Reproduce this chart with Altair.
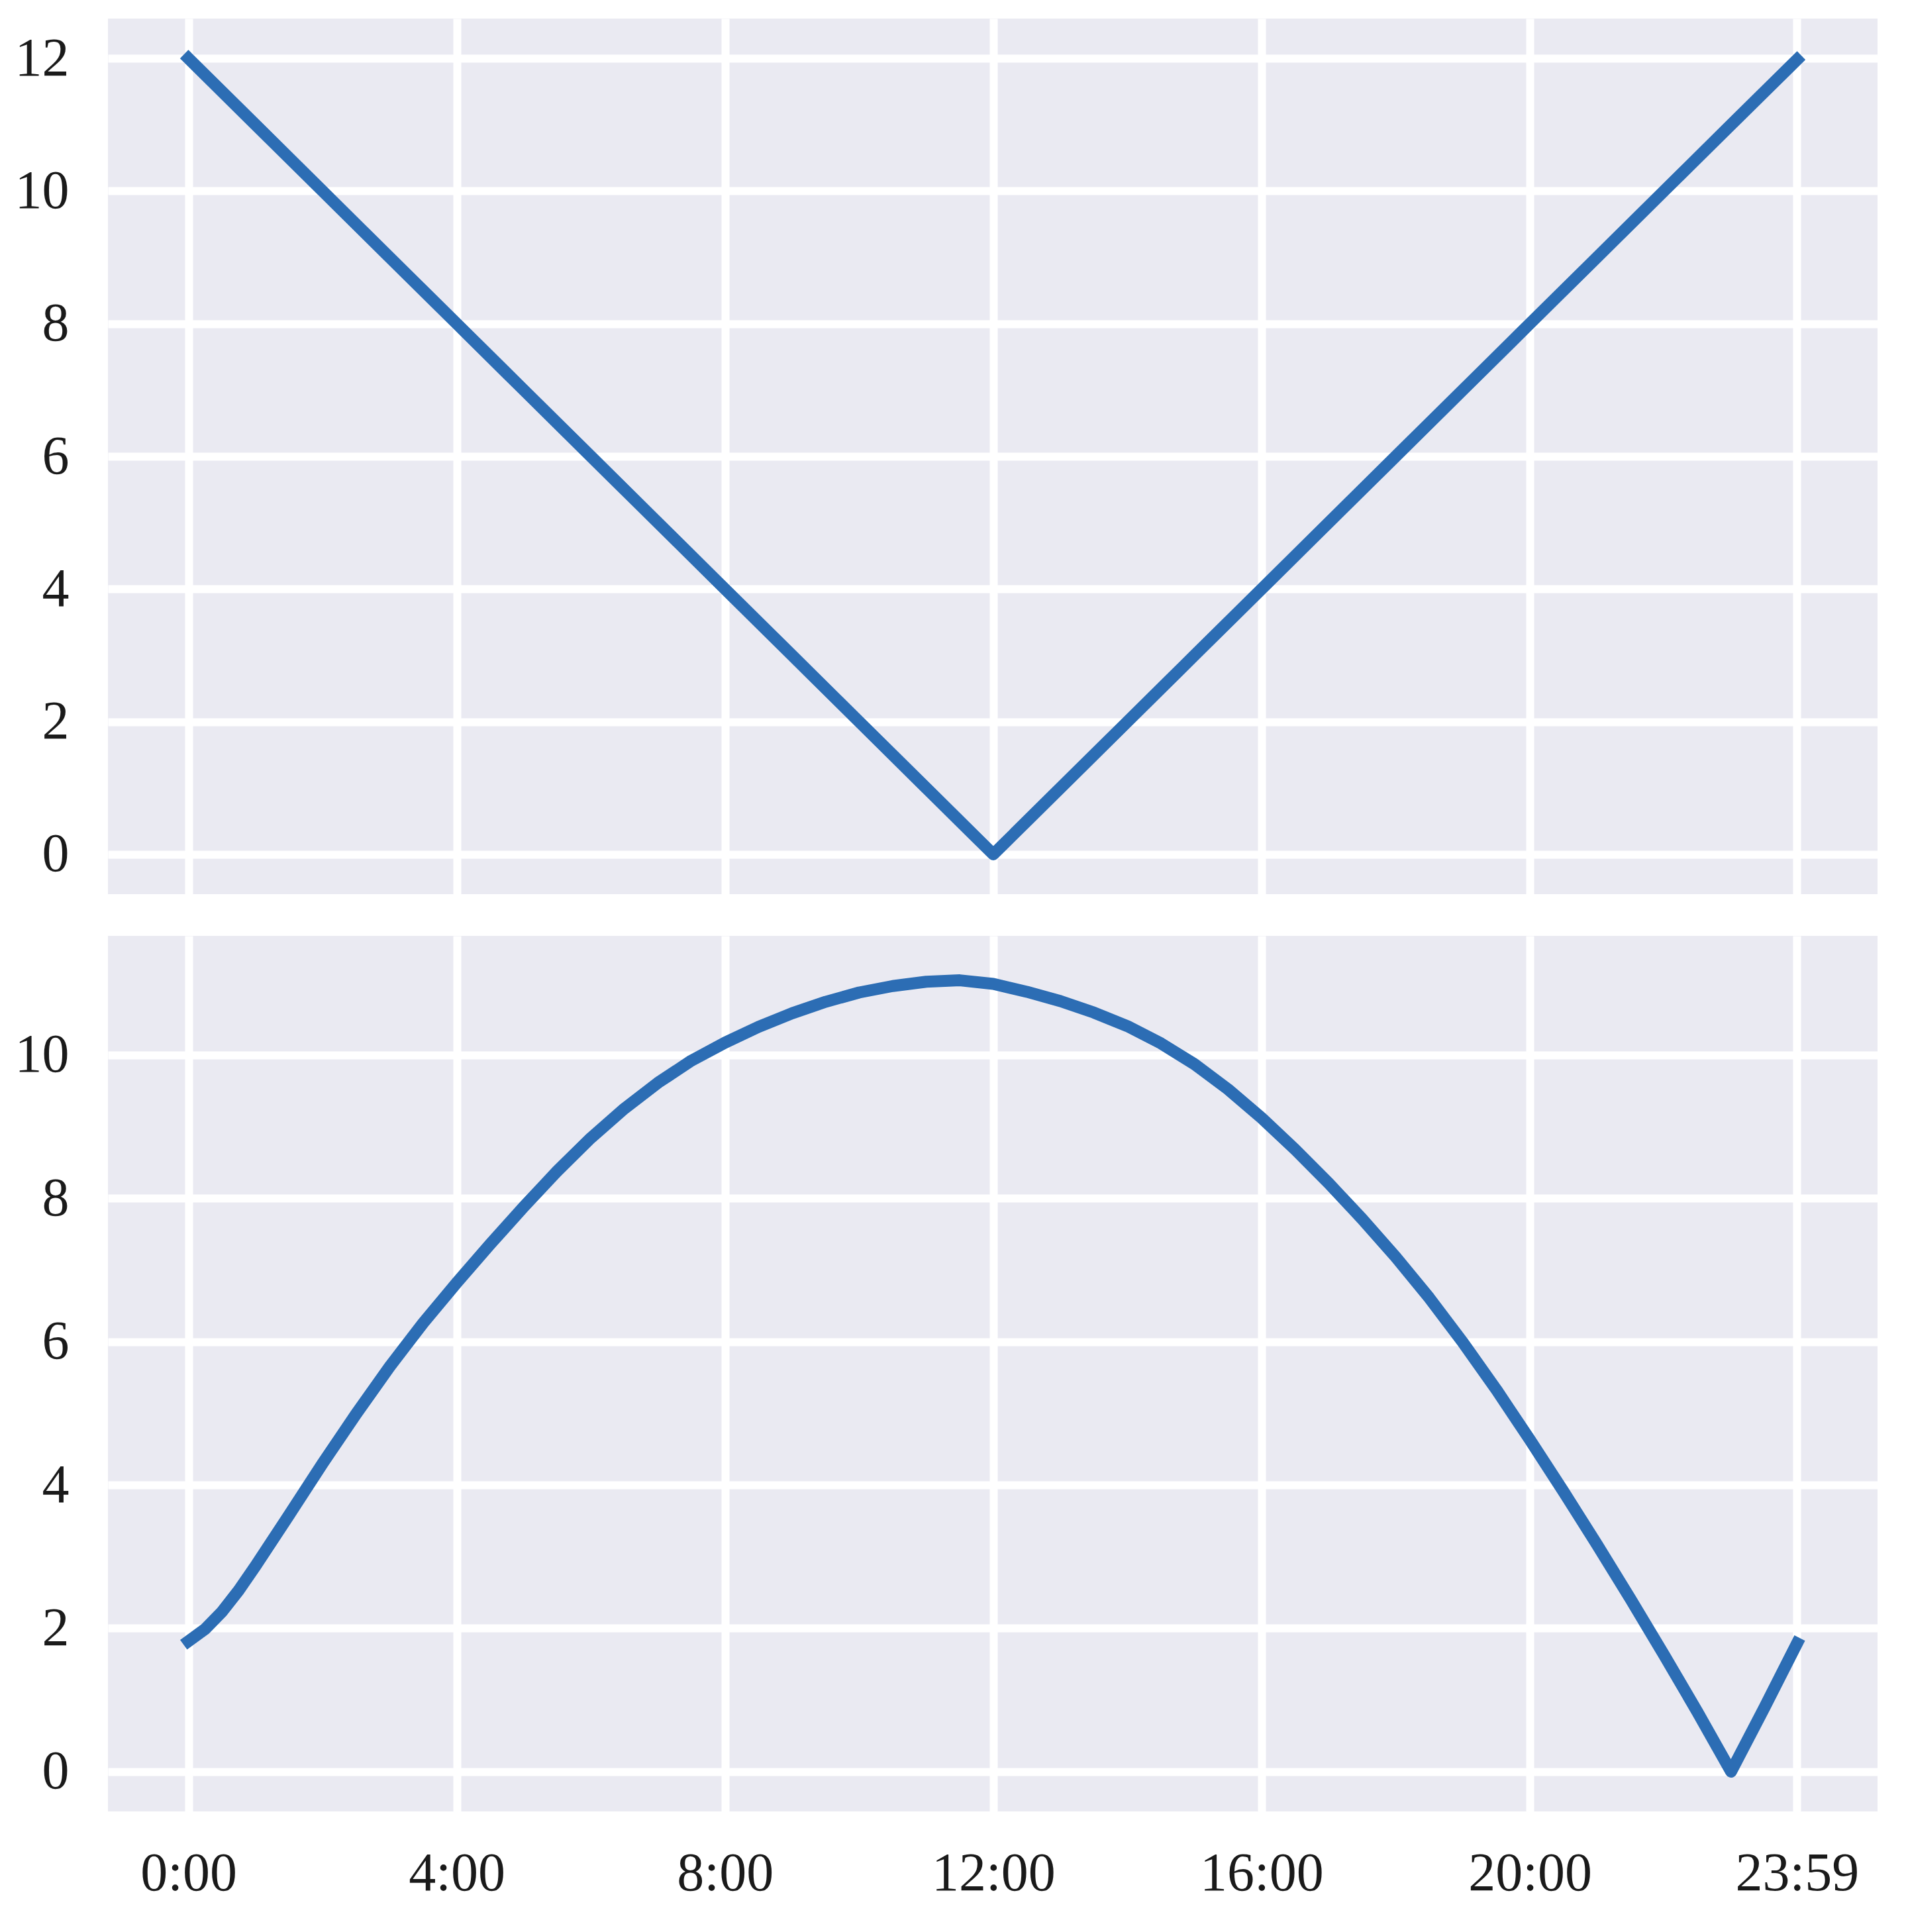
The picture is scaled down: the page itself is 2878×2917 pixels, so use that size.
import altair as alt
import pandas as pd

# ---- data ----
tick_minutes = [0, 240, 480, 720, 960, 1200, 1439]
tick_labels = ["0:00", "4:00", "8:00", "12:00", "16:00", "20:00", "23:59"]

top_minutes = [0, 60, 120, 180, 240, 300, 360, 420, 480, 540, 600, 660, 720,
               780, 840, 900, 960, 1020, 1080, 1140, 1200, 1260, 1320, 1380, 1439]
top_values = [12, 11, 10, 9, 8, 7, 6, 5, 4, 3, 2, 1, 0,
              1, 2, 3, 4, 5, 6, 7, 8, 9, 10, 11, 11.98]

bottom_minutes = [0, 15, 30, 45, 60, 90, 120, 150, 180, 210, 240, 270, 300, 330, 360,
                  390, 420, 450, 480, 510, 540, 570, 600, 630, 660, 690, 720,
                  750, 780, 810, 840, 870, 900, 930, 960, 990, 1020, 1050, 1080,
                  1110, 1140, 1170, 1200, 1230, 1260, 1290, 1320, 1350, 1380,
                  1410, 1439]
bottom_values = [1.82, 1.99, 2.23, 2.53, 2.87, 3.58, 4.30, 4.99, 5.65, 6.26, 6.82, 7.36, 7.88, 8.38, 8.84,
                 9.25, 9.61, 9.92, 10.17, 10.39, 10.58, 10.74, 10.87, 10.96, 11.02, 11.04, 10.99,
                 10.88, 10.75, 10.59, 10.40, 10.16, 9.87, 9.52, 9.12, 8.68, 8.21, 7.71, 7.18,
                 6.61, 5.99, 5.33, 4.63, 3.91, 3.17, 2.41, 1.63, 0.83, 0.0,
                 0.90, 1.79]

top_ticks = [0, 2, 4, 6, 8, 10, 12]
bottom_ticks = [0, 2, 4, 6, 8, 10]

top_df = pd.DataFrame({"minute": top_minutes, "value": top_values})
bottom_df = pd.DataFrame({"minute": bottom_minutes, "value": bottom_values})

LINE_COLOR = "#2c6db4"
FONT = "Liberation Serif"
FS = 82
W = 2672
H = 1322

label_expr = "[{}][indexof([{}], datum.value)]".format(
    ",".join("'" + s + "'" for s in tick_labels),
    ",".join(str(v) for v in tick_minutes),
)

x_scale = alt.Scale(domain=[-72, 1511], nice=False, zero=False)

line_kw = dict(color=LINE_COLOR, strokeWidth=18, strokeCap="square", strokeJoin="round")

top = alt.Chart(top_df).mark_line(**line_kw).encode(
    x=alt.X("minute:Q", scale=x_scale,
            axis=alt.Axis(values=tick_minutes, labels=False, title=None,
                          minExtent=0, maxExtent=0)),
    y=alt.Y("value:Q", scale=alt.Scale(domain=[-0.6, 12.6], nice=False, zero=False),
            axis=alt.Axis(values=top_ticks, title=None, labelPadding=59,
                          minExtent=150, maxExtent=150)),
).properties(width=W, height=H)

bottom = alt.Chart(bottom_df).mark_line(**line_kw).encode(
    x=alt.X("minute:Q", scale=x_scale,
            axis=alt.Axis(values=tick_minutes, labelExpr=label_expr, title=None,
                          labelPadding=53, labelFlush=False, labelOverlap=False)),
    y=alt.Y("value:Q", scale=alt.Scale(domain=[-0.555, 11.66], nice=False, zero=False),
            axis=alt.Axis(values=bottom_ticks, title=None, labelPadding=59,
                          minExtent=150, maxExtent=150)),
).properties(width=W, height=H)

chart = alt.vconcat(top, bottom, spacing=63).properties(
    padding={"left": 5, "top": 20, "right": 5, "bottom": 5},
    background="white",
).configure_view(
    fill="#EAEAF2", strokeWidth=0
).configure_axis(
    grid=True, gridColor="white", gridWidth=12, gridOpacity=1,
    domain=False, ticks=False, tickSize=0,
    labelFont=FONT, labelFontSize=FS, labelColor="#1a1a1a", labelLimit=1000,
)

chart.save("out.html", embed_options={"renderer": "svg", "actions": False})
